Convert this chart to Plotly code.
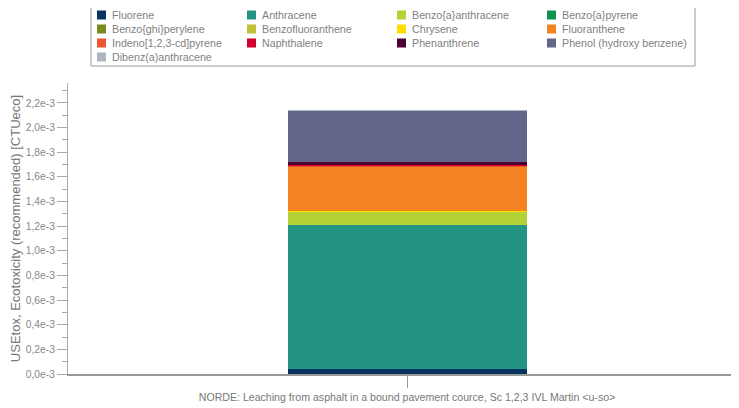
import plotly.graph_objects as go

# stacked contributions, bottom to top (same order as the legend)
substances = [
    "Fluorene", "Anthracene", "Benzo{a}anthracene", "Benzo{a}pyrene",
    "Benzo{ghi}perylene", "Benzofluoranthene", "Chrysene", "Fluoranthene",
    "Indeno[1,2,3-cd]pyrene", "Naphthalene", "Phenanthrene", "Phenol (hydroxy benzene)",
    "Dibenz(a)anthracene",
]
values = [
    0.040e-3, 1.168e-3, 0.108e-3, 0.004e-3,
    0.0005e-3, 0.001e-3, 0.001e-3, 0.365e-3,
    0.002e-3, 0.003e-3, 0.032e-3, 0.413e-3,
    0.004e-3,
]
colors = [
    "#06335f", "#239484", "#b2d235", "#0f9150",
    "#7b8a1e", "#c0c03a", "#ffdd00", "#f38321",
    "#eb5530", "#d0002a", "#4d0033", "#63668a",
    "#adb5c0",
]
category = "NORDE: Leaching from asphalt in a bound pavement cource, Sc 1,2,3 IVL Martin &lt;u-so&gt;"

tick_vals = [i * 0.2e-3 for i in range(12)]
tick_text = ["0,0e-3", "0,2e-3", "0,4e-3", "0,6e-3", "0,8e-3", "1,0e-3",
             "1,2e-3", "1,4e-3", "1,6e-3", "1,8e-3", "2,0e-3", "2,2e-3"]

# the page body adds an 8px margin, so the figure is drawn 8px smaller
OFF = 8
W, H = 739 - OFF, 408 - OFF
L, R, T, B = 68 - OFF, 2, 83 - OFF, 34
FONT = "Liberation Sans, Arial, sans-serif"
GREY = "#7f7f7f"

fig = go.Figure()
for name, val, col in zip(substances, values, colors):
    fig.add_trace(go.Bar(
        x=[category], y=[val], name=name, width=0.3525,
        marker=dict(color=col, line=dict(width=0)), showlegend=False,
    ))


def px_x(p):
    return (p - OFF - L) / (W - L - R)


def px_y(p):
    return 1 - (p - OFF - T) / (H - T - B)


# legend box drawn by hand (4 columns, compact rows)
shapes = [dict(type="rect", xref="paper", yref="paper",
               x0=px_x(91), x1=px_x(695), y0=px_y(4), y1=px_y(66),
               line=dict(color="#9a9a9a", width=1), fillcolor="white")]
annotations = []
for i, (name, col) in enumerate(zip(substances, colors)):
    cx = 97 + 150 * (i % 4)
    cy = 15 + 14 * (i // 4)
    shapes.append(dict(type="rect", xref="paper", yref="paper",
                       x0=px_x(cx), x1=px_x(cx + 9), y0=px_y(cy - 4.5), y1=px_y(cy + 4.5),
                       line=dict(width=0), fillcolor=col))
    annotations.append(dict(xref="paper", yref="paper", x=px_x(cx + 13), y=px_y(cy),
                            xanchor="left", yanchor="middle", showarrow=False, text=name,
                            font=dict(family=FONT, size=10.7, color=GREY)))

fig.update_layout(
    width=W, height=H,
    margin=dict(l=L, r=R, t=T, b=B),
    barmode="stack",
    plot_bgcolor="white", paper_bgcolor="white",
    font=dict(family=FONT, color=GREY),
    shapes=shapes, annotations=annotations,
    showlegend=False,
)
fig.update_xaxes(
    type="category", range=[-0.5, 0.4867],
    showline=True, linecolor="#999999", linewidth=2,
    ticks="outside", ticklen=12, tickcolor="#999999",
    tickfont=dict(size=10.6, color="#777777"), showgrid=False,
)
fig.update_yaxes(
    range=[0, 2.362e-3],
    tickmode="array", tickvals=tick_vals, ticktext=tick_text,
    showline=True, linecolor="#aaaaaa", linewidth=1,
    ticks="outside", ticklen=10, tickcolor="#aaaaaa",
    tickfont=dict(size=10.3, color="#888888"),
    minor=dict(tick0=0, dtick=0.1e-3, ticks="outside", ticklen=5, tickcolor="#aaaaaa"),
    showgrid=False, zeroline=False,
    title=dict(text="USEtox, Ecotoxicity (recommended) [CTUeco]",
               font=dict(size=13, color="#777777"), standoff=5),
)

fig.write_html("out.html")
